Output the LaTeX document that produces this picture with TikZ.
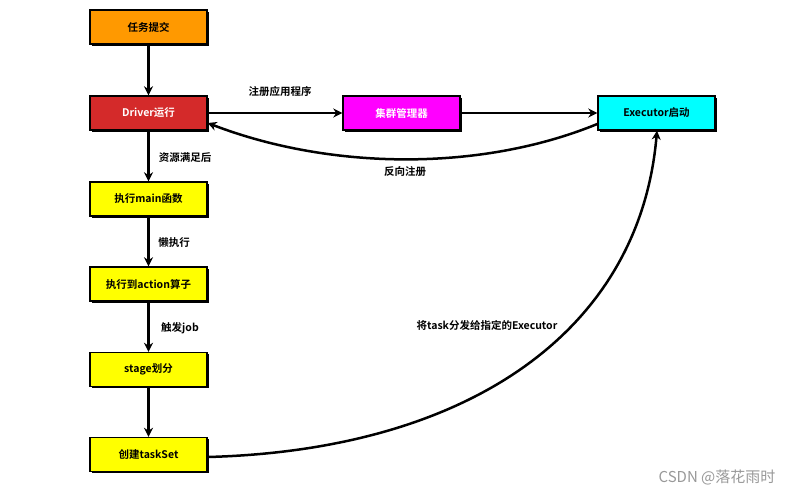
\documentclass[tikz,border=0pt]{standalone}
\usepackage{fontspec}
\setmainfont{Noto Sans CJK SC}[BoldFont={Noto Sans CJK SC Bold}]
\usetikzlibrary{arrows.meta,shadows}
\definecolor{cOrange}{RGB}{255,153,0}
\definecolor{cRed}{RGB}{212,42,42}
\definecolor{cMag}{RGB}{255,0,255}
\definecolor{cCyan}{RGB}{0,255,255}
\definecolor{cYel}{RGB}{255,255,0}
\tikzset{
  box/.style={draw=black, line width=1.4pt, minimum width=117pt, minimum height=34pt,
    inner sep=0pt, font=\bfseries\fontsize{10.5}{12}\selectfont,
    drop shadow={shadow xshift=1.8pt, shadow yshift=-1.8pt, opacity=1, fill=black}},
  conn/.style={line width=2.5pt, -{Stealth[length=9pt,width=9pt]}},
  lbl/.style={font=\bfseries\fontsize{10.5}{12}\selectfont, inner sep=0pt}
}
\begin{document}
\begin{tikzpicture}[x=1pt,y=-1pt]
\useasboundingbox[fill=white] (0,0) rectangle (807,496);
\node[box, fill=cOrange] (submit) at (148.5,27) {任务提交};
\node[box, fill=cRed, text=white] (driver) at (148.5,113) {Driver运行};
\node[box, fill=cYel] (main) at (148.5,199) {执行main函数};
\node[box, fill=cYel] (action) at (148.5,284) {执行到action算子};
\node[box, fill=cYel] (stage) at (148.5,369.5) {stage划分};
\node[box, fill=cYel] (taskset) at (148.5,454.5) {创建taskSet};
\node[box, fill=cMag, text=white] (cluster) at (401.5,113) {集群管理器};
\node[box, fill=cCyan] (exec) at (656.5,113) {Executor启动};

\draw[conn] (submit) -- (driver);
\draw[conn] (driver) -- (main);
\draw[conn] (main) -- (action);
\draw[conn] (action) -- (stage);
\draw[conn] (stage) -- (taskset);
\draw[conn] (driver) -- (cluster);
\draw[conn] (cluster) -- (exec);
\draw[conn] (exec.west |- 0,124) .. controls (480,172) and (330,170) .. (driver.east |- 0,123);
\draw[conn] (taskset.east |- 0,457) .. controls (470,450) and (640,330) .. (exec.south -| 657,0);

\node[lbl] (l1) at (280,91) {注册应用程序};
\node[lbl] (l2) at (405,172) {反向注册};
\node[lbl] (l3) at (185,158) {资源满足后};
\node[lbl] (l4) at (174,243) {懒执行};
\node[lbl] (l5) at (180,328) {触发job};
\node[lbl] (l6) at (487,325) {将task分发给指定的Executor};
\node[font=\fontsize{15}{16}\selectfont, text=black!40, inner sep=0pt] (wm) at (717,477) {CSDN @落花雨时};
\end{tikzpicture}
\end{document}
